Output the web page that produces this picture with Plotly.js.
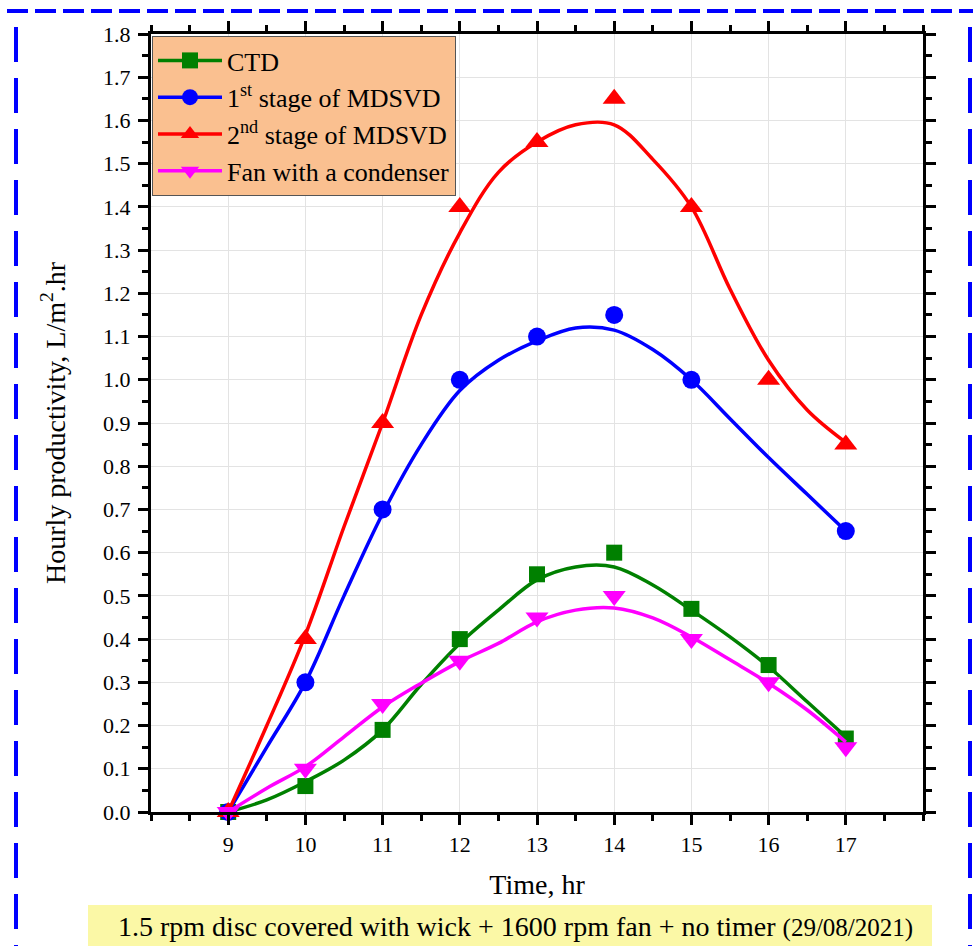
<!DOCTYPE html>
<html>
<head>
<meta charset="utf-8">
<script src="https://cdn.plot.ly/plotly-3.0.1.min.js"></script>
<style>
  html, body { margin: 0; padding: 0; background: #ffffff; }
  #chart { width: 973px; height: 946px; }
</style>
</head>
<body>
<div id="chart"></div>
<script>
// ---- measured data points (markers) ----
const hours = [9, 10, 11, 12, 13, 14, 15, 16, 17];
const ctd = [0, 0.06, 0.19, 0.40, 0.55, 0.60, 0.47, 0.34, 0.17];
const stage1Hours = [9, 10, 11, 12, 13, 14, 15, 17];
const stage1 = [0, 0.30, 0.70, 1.00, 1.10, 1.15, 1.00, 0.65];
const stage2 = [0, 0.40, 0.90, 1.40, 1.55, 1.65, 1.40, 1.00, 0.85];
const fan = [0, 0.10, 0.25, 0.35, 0.45, 0.50, 0.40, 0.30, 0.15];

// ---- smoothed curves, values ----
const fitHours = [9, 9.5, 10, 10.5, 11, 11.5, 12, 12.5, 13, 13.5, 14, 14.5, 15, 15.5, 16, 16.5, 17];
const ctdFit = [0, 0.028, 0.07, 0.12, 0.19, 0.295, 0.39, 0.467, 0.537, 0.567, 0.567, 0.525, 0.467, 0.405, 0.336, 0.255, 0.174];
const stage1Fit = [0, 0.15, 0.30, 0.50, 0.69, 0.85, 0.975, 1.045, 1.09, 1.12, 1.115, 1.07, 1.00, 0.91, 0.82, 0.735, 0.65];
const stage2Fit = [0, 0.20, 0.41, 0.66, 0.90, 1.15, 1.34, 1.48, 1.55, 1.59, 1.59, 1.51, 1.40, 1.21, 1.045, 0.93, 0.855];
const fanFit = [0, 0.055, 0.105, 0.174, 0.243, 0.298, 0.348, 0.39, 0.44, 0.467, 0.472, 0.449, 0.405, 0.352, 0.298, 0.236, 0.162];

// ---- labels ----
const seriesNames = ['CTD', '1<sup>st</sup> stage of MDSVD', '2<sup>nd</sup> stage of MDSVD', 'Fan with a condenser'];
const xTickVals = [9, 10, 11, 12, 13, 14, 15, 16, 17];
const xTickText = ['9', '10', '11', '12', '13', '14', '15', '16', '17'];
const xEdgeTicks = [8, 18];
const xTitle = 'Time, hr';
const yTitle = 'Hourly productivity, L/m<sup>2</sup>.hr';
const noteMain = '1.5 rpm disc covered with wick + 1600 rpm fan + no timer';
const noteDate = '(29/08/2021)';

const FONT = 'Times New Roman';
const colors = ['#008000', '#0000FF', '#FF0000', '#FF00FF'];
const symbols = ['square', 'circle', 'triangle-up', 'triangle-down'];
const sizes = [16, 18, 20, 20];

const series = [
  {fx: fitHours, fy: ctdFit, mx: hours, my: ctd},
  {fx: fitHours, fy: stage1Fit, mx: stage1Hours, my: stage1},
  {fx: fitHours, fy: stage2Fit, mx: hours, my: stage2},
  {fx: fitHours, fy: fanFit, mx: hours, my: fan}
];

const traces = [];
series.forEach((s, i) => {
  traces.push({type: 'scatter', mode: 'lines', x: s.fx, y: s.fy,
    line: {color: colors[i], width: 3.5, shape: 'spline', smoothing: 1},
    showlegend: false, hoverinfo: 'skip', cliponaxis: false});
  traces.push({type: 'scatter', mode: 'markers', x: s.mx, y: s.my,
    marker: {color: colors[i], symbol: symbols[i], size: sizes[i], line: {width: 0}},
    showlegend: false, cliponaxis: false});
});
// legend keys (line + marker)
series.forEach((s, i) => {
  traces.push({type: 'scatter', mode: 'lines+markers', x: [null], y: [null], name: seriesNames[i],
    line: {color: colors[i], width: 3.5},
    marker: {color: colors[i], symbol: symbols[i], size: 16, line: {width: 0}}, showlegend: true});
});

// plot area in pixels: x 151..923, y 34..812
const L = 151, R = 923, T = 34, B = 812;
const px = v => (v - L) / (R - L);
const py = v => (B - v) / (B - T);

const layout = {
  width: 973, height: 946,
  margin: {l: L, r: 973 - R, t: T, b: 946 - B, pad: 0},
  paper_bgcolor: '#ffffff', plot_bgcolor: '#ffffff',
  font: {family: FONT, color: '#000000', size: 22},
  showlegend: true,
  legend: {x: px(152), y: py(36), xanchor: 'left', yanchor: 'top',
    bgcolor: '#FAC090', bordercolor: '#555555', borderwidth: 1,
    font: {family: FONT, size: 26, color: '#000000'},
    itemwidth: 64, tracegroupgap: 0, traceorder: 'normal'},
  xaxis: {range: [8, 18], tickmode: 'array', tickvals: xTickVals, ticktext: xTickText,
    showline: true, linecolor: '#000000', linewidth: 3, mirror: 'allticks',
    ticks: 'outside', ticklen: 10, tickwidth: 3, tickcolor: '#000000',
    minor: {tickmode: 'linear', tick0: 8, dtick: 0.5, ticks: 'outside', ticklen: 6, tickwidth: 3, tickcolor: '#000000', showgrid: false},
    showgrid: true, gridcolor: '#e3e3e3', gridwidth: 1, zeroline: false,
    tickfont: {family: FONT, size: 22, color: '#000000'}, ticklabelstandoff: 1,
    title: {text: xTitle, font: {family: FONT, size: 28, color: '#000000'}, standoff: 18}},
  xaxis2: {overlaying: 'x', matches: 'x', anchor: 'y', side: 'bottom', range: [8, 18],
    tickmode: 'array', tickvals: xEdgeTicks, showticklabels: false,
    ticks: 'outside', ticklen: 10, tickwidth: 3, tickcolor: '#000000', mirror: 'ticks',
    showline: false, showgrid: false, zeroline: false},
  yaxis: {range: [0, 1.8], tickmode: 'linear', tick0: 0, dtick: 0.1, tickformat: '.1f',
    showline: true, linecolor: '#000000', linewidth: 3, mirror: 'allticks',
    ticks: 'outside', ticklen: 10, tickwidth: 3, tickcolor: '#000000',
    minor: {tickmode: 'linear', tick0: 0, dtick: 0.05, ticks: 'outside', ticklen: 6, tickwidth: 3, tickcolor: '#000000', showgrid: false},
    showgrid: true, gridcolor: '#e3e3e3', gridwidth: 1, zeroline: false,
    tickfont: {family: FONT, size: 22, color: '#000000'}, ticklabelstandoff: 3,
    title: {text: yTitle, font: {family: FONT, size: 28, color: '#000000'}, standoff: 30}},
  shapes: [
    // yellow note box
    {type: 'rect', xref: 'paper', yref: 'paper', x0: px(88), x1: px(932), y0: py(952), y1: py(905),
     fillcolor: '#FBF8A6', line: {width: 0}, layer: 'below'},
    // blue dashed frame
    {type: 'line', xref: 'paper', yref: 'paper', x0: px(7), x1: px(980), y0: py(11), y1: py(11),
     line: {color: '#0000FF', width: 4, dash: '21px,7px'}},
    {type: 'line', xref: 'paper', yref: 'paper', x0: px(16), x1: px(16), y0: py(27), y1: py(960),
     line: {color: '#0000FF', width: 4, dash: '35px,16px'}},
    {type: 'line', xref: 'paper', yref: 'paper', x0: px(970), x1: px(970), y0: py(27), y1: py(960),
     line: {color: '#0000FF', width: 4, dash: '35px,16px'}}
  ],
  annotations: [
    {xref: 'paper', yref: 'paper', x: px(515), y: py(926), xanchor: 'center', yanchor: 'middle', showarrow: false,
     text: noteMain + ' <span style="font-size:25px">' + noteDate + '</span>',
     font: {family: FONT, size: 28, color: '#000000'}}
  ]
};

Plotly.newPlot('chart', traces, layout, {displayModeBar: false, staticPlot: true});
</script>
</body>
</html>
